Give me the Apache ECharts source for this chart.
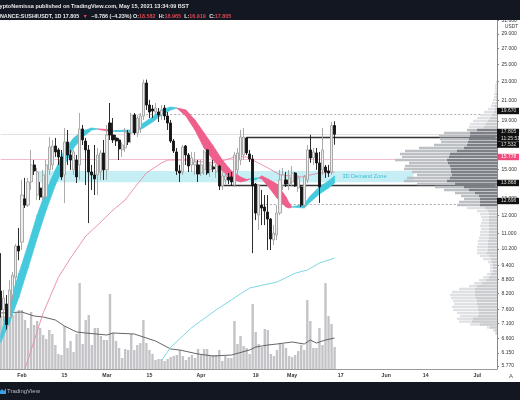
<!DOCTYPE html>
<html>
<head>
<meta charset="utf-8">
<style>html,body{margin:0;padding:0;background:#fff}#main{width:520px;height:400px}</style>
<script src="https://cdn.jsdelivr.net/npm/echarts@6/dist/echarts.min.js"></script>
</head>
<body>
<div id="main"></div>
<script>
var xTickText = {'2021-02-01':'Feb','2021-02-15':'15','2021-03-01':'Mar','2021-03-15':'15','2021-04-01':'Apr','2021-04-19':'19','2021-05-01':'May','2021-05-17':'17','2021-06-01':'Jun','2021-06-14':'14','2021-07-01':'Jul'};
var yTicks = [31,29,27,25,23,21,19,17,16,15,14,13,12,11,10.2,9.4,8.8,8.2,7.6,7.1,6.6,6.15,5.77];

// open, close, low, high
var candles = [
[8.31,7.58,7.3,9.99],[7.58,8.03,7.16,8.35],[7.8,7.06,6.89,8.15],[7.3,8.35,7.06,8.76],[8.15,8.97,7.96,9.11],
[8.88,10.34,8.55,10.44],[10.34,10.09,9.65,11.29],[10.54,13.25,10.14,14.26],[13.0,12.62,12.44,14.4],[12.62,14.12,12.5,14.4],
[14.12,15.34,13.58,16.5],[15.34,14.9,14.61,15.71],[13.25,14.82,12.93,15.12],[13.71,13.12,12.93,14.12],[13.12,14.61,12.93,14.97],
[13.12,15.34,12.81,15.71],[14.97,16.74,14.61,17.57],[15.34,16.82,14.97,17.32],[16.82,16.34,15.95,17.49],[16.5,15.95,15.34,16.66],
[15.95,14.47,14.26,16.5],[14.61,17.15,12.75,18.36],[17.15,16.1,15.34,18.18],[16.1,15.71,14.97,16.5],[14.97,16.34,14.61,16.5],
[15.71,14.47,14.05,16.1],[15.34,18.27,14.26,19.75],[18.27,17.32,16.9,18.63],[17.23,16.5,13.91,17.49],[16.5,14.82,11.56,16.9],
[14.82,14.61,13.58,15.34],[14.61,14.33,13.25,16.9],[14.61,16.1,13.25,16.66],[14.82,16.26,14.26,16.5],[16.26,14.97,14.26,17.32],
[14.97,17.75,14.26,18.63],[18.81,17.75,17.32,20.73],[17.75,17.32,17.07,19.27],[17.49,17.23,16.82,17.75],[17.32,16.58,15.71,17.49],
[16.5,16.9,15.95,17.15],[16.66,18.01,16.34,18.36],[17.92,17.15,16.9,18.18],[17.92,19.56,17.07,19.75],[19.56,17.92,17.75,19.75],
[17.92,19.27,17.57,19.56],[18.36,19.46,17.92,19.75],[19.46,22.85,19.09,23.23],[22.85,20.53,20.04,23.23],[20.53,19.84,19.27,21.05],
[20.13,19.94,19.27,20.53],[19.84,20.23,19.37,20.73],[19.84,19.56,18.9,20.23],[19.56,20.04,19.09,20.53],[20.23,19.46,19.09,20.53],
[19.46,18.81,18.18,19.84],[18.81,17.23,17.07,19.09],[17.23,16.42,16.26,17.4],[16.34,14.9,14.61,16.66],[14.9,14.75,14.12,15.34],
[14.82,16.74,14.61,16.9],[16.82,16.1,15.34,16.9],[16.1,15.26,14.82,16.26],[15.34,15.87,14.82,16.34],[15.34,15.56,14.61,16.34],
[15.34,14.68,14.12,15.71],[14.75,15.34,14.54,15.71],[14.97,16.34,14.61,16.5],[16.5,14.75,14.61,16.55],[14.97,15.34,14.47,15.56],
[15.19,15.04,14.82,15.71],[14.82,15.26,14.4,15.41],[15.26,13.85,13.58,15.34],[13.85,14.54,13.58,14.82],[14.26,14.54,13.98,14.82],
[14.47,14.26,13.98,14.75],[14.47,14.12,13.85,14.82],[13.91,16.1,13.78,16.34],[14.97,16.26,14.61,16.66],[15.71,17.57,15.34,18.18],
[16.1,17.57,15.71,18.36],[17.49,16.26,16.1,17.57],[16.18,15.79,15.56,16.5],[15.79,13.85,9.99,16.1],[13.98,12.14,11.73,14.05],
[12.02,13.91,11.18,13.95],[12.62,12.44,11.45,13.58],[12.5,12.26,11.45,13.25],[12.2,11.79,10.14,13.25],[11.79,10.7,10.14,11.85],
[10.65,11.01,10.39,11.45],[10.91,12.14,10.65,12.62],[12.14,14.26,12.02,14.97],[13.91,14.61,13.58,15.12],[14.26,13.98,13.78,14.82],
[13.98,14.4,13.58,14.97],[14.12,14.75,13.85,15.26],[14.75,13.85,13.78,14.82],[13.71,14.4,13.45,14.61],[13.78,12.62,12.5,13.91],
[12.62,14.47,12.5,14.61],[14.26,16.5,14.05,16.9],[16.5,15.87,15.49,17.75],[15.87,16.34,15.34,16.66],[16.26,15.49,14.97,16.66],
[15.49,13.78,12.75,16.34],[14.97,16.5,14.61,18.36],[15.19,14.82,14.4,15.34],[14.9,14.75,14.47,15.34],[14.82,18.58,14.61,18.9],
[18.582,17.805,16.919,18.965]
];

var volumes = [5.4,5.3,5.8,5.1,5.4,5.6,5.9,5.9,4.9,4.1,5.7,4.4,4.8,4.1,3.4,3.0,3.9,3.5,2.4,1.5,1.4,4.3,2.1,2.8,1.7,3.5,8.6,2.5,4.9,5.4,
2.4,4.1,4.1,3.3,2.9,2.9,7.5,3.6,2.8,2.1,1.1,2.0,1.9,3.5,1.9,2.4,2.6,4.9,2.6,1.9,1.5,0.9,1.0,1.0,0.8,1.0,1.2,1.3,1.4,1.9,
1.3,0.9,1.2,1.4,1.1,2.0,1.4,2.0,2.0,1.3,1.4,1.4,1.9,0.8,1.3,1.1,1.1,4.8,2.5,3.3,2.3,2.1,1.5,6.5,3.7,2.5,2.2,4.0,3.9,1.5,
1.3,1.9,2.6,2.5,2.1,1.3,1.2,1.4,1.8,2.4,1.9,6.9,4.8,2.1,2.1,4.1,2.4,8.6,5.3,4.5,2.2];
var volumeAverage = [[0,5.6],[7,5.7],[11,5.3],[14,5.2],[18,4.9],[21,4.3],[25,3.7],[28,3.6],[35,3.4],[37,3.6],[44,3.5],[47,3.2],[51,2.8],[56,2.0],[59,1.9],[65,1.5],[70,1.3],[76,1.4],[82,1.9],[84,2.2],[88,2.4],[91,2.5],[96,2.7],[100,2.5],[102,2.9],[104,2.6],[107,2.9],[110,3.1]];

var pinkAverage = [[8,5.69],[14,7.47],[19,8.88],[23,9.75],[28,10.85],[33,11.62],[37,12.32],[41,12.93],[44,13.71],[48,14.75],[53,15.49],[55,15.71],[61,15.71],[70,15.49],[72,15.56],[77,15.95],[81,15.95],[83,15.71],[88,15.12],[92,14.61],[99,14.47],[105,14.75],[110,14.82]];
var cyanAverage = [[53,5.93],[56,6.32],[63,6.96],[71,7.58],[76,7.96],[82,8.43],[91,8.68],[97,9.06],[101,9.2],[105,9.52],[110,9.75]];

// day index, fast average, slow average
var ribbon = [[0,6.72,6.47],[3,7.88,7.16],[6,9.06,8.07],[9,10.39,9.29],[12,12.02,10.75],[15,13.58,12.32],[18,14.97,13.91],[21,16.5,15.34],[24,17.49,16.66],[27,18.09,17.57],[30,18.36,18.18],[32,18.27,18.27],[35,18.09,18.22],[37,18.09,18.09],[38,18.14,18.05],[44,18.18,18.01],[47,18.81,18.36],[50,19.37,18.9],[53,20.04,19.56],[56,20.33,20.04],[58,20.23,20.23],[61,19.46,20.04],[64,18.18,19.09],[67,16.66,17.92],[70,15.71,16.82],[73,14.9,15.71],[76,14.33,14.9],[79,14.12,14.47],[81,14.22,14.29],[82,14.33,14.33],[84,14.4,14.26],[85,14.4,14.4],[86,14.33,14.54],[88,13.85,14.33],[91,13.06,13.98],[94,12.5,13.12],[95,12.44,12.75],[96,12.5,12.5],[100,12.68,12.44],[102,13.19,12.81],[105,13.78,13.32],[108,14.19,13.71],[110,14.54,14.05]];

var profilePrices = [22.96,22.63,22.3,21.98,21.66,21.34,21.05,20.73,20.43,20.13,19.84,19.56,19.27,19.0,18.72,18.45,18.18,17.92,17.66,17.4,17.15,16.9,16.66,16.42,16.18,15.95,15.71,15.49,15.26,15.04,14.82,14.61,14.4,14.19,13.98,13.78,13.58,13.38,13.19,13.0,12.81,12.62,12.44,12.26,12.08,11.9,11.73,11.56,11.4,11.23,11.07,10.91,10.75,10.6,10.44,10.29,10.14,9.99,9.85,9.7,9.56,9.42,9.29,9.15,9.02,8.88,8.76,8.63,8.51,8.39,8.27,8.15,8.03,7.92,7.8,7.69,7.58,7.47,7.36,7.26,7.16,7.06,6.96,6.86,6.76];
var profileTotal = [1,2,2,2,3,3,4,5,6,9,13,17,20,24,27,28,30,53,58,57,56,63,78,92,97,95,102,88,92,93,85,80,90,93,80,62,53,42,36,33,38,40,30,20,17,16,15,16,17,16,17,17,18,19,19,20,20,20,17,14,9,7,7,7,10,14,18,23,28,38,45,47,46,44,43,45,44,40,37,40,38,27,10,4,2];
var profileDark = [0,0,0,0,1,1,1,1,2,2,3,5,7,9,11,13,20,27,27,28,29,30,33,40,47,48,50,49,47,46,46,45,47,50,42,33,28,22,18,17,17,17,12,9,8,8,8,8,8,8,8,8,8,9,9,9,9,10,8,6,5,4,4,4,6,8,11,15,20,22,22,22,21,20,20,19,19,18,19,24,25,17,7,2,1];

var levels = {resistance:19.67, lastClose:17.805, boxTop:17.532, pinkLevel:15.778, boxBottom:13.868, support:12.696};
var zone = {top:14.9, bottom:14.1, from:12, to:136};

// Jan 25 to Jul 7 2021, one category per day
var categories = [];
for (var i = 0; i < 164; i++) {
    categories.push(new Date(Date.UTC(2021, 0, 25 + i)).toISOString().slice(0, 10));
}

var chartDom = document.getElementById('main');
var myChart = echarts.init(chartDom);

function showTick(index, value) { return xTickText[value] !== undefined; }

function tag(text, y, bg, color) {
    return {type:'text', z:60, x:497, y:y, style:{text:text, fill:color || '#ddd', backgroundColor:bg || '#111', width:18, height:6.4, lineHeight:6.4, padding:[0,0,0,4], font:'5px "Liberation Sans"', verticalAlign:'middle'}};
}

var option = {
    animation: false,
    backgroundColor: '#fff',
    grid: {left:-0.8, top:20, width:497.8, height:349, outerBoundsMode:'none'},
    xAxis: [
        {type:'category', data:categories, position:'bottom',
         axisLine:{lineStyle:{color:'#9a9a9a',width:1}},
         axisTick:{length:2, interval:showTick, alignWithLabel:true, lineStyle:{color:'#9a9a9a'}},
         axisLabel:{interval:showTick, margin:4, fontSize:5.2, color:'#333', fontWeight:'bold', fontFamily:'Liberation Sans', formatter:function (v) { return xTickText[v]; }}},
        {type:'value', inverse:true, min:0, max:497.8, show:false}
    ],
    yAxis: [
        {type:'log', logBase:10, min:5.686, max:31.04, position:'right', splitLine:{show:false},
         axisLine:{show:true, onZero:false, lineStyle:{color:'#888',width:1}},
         axisTick:{show:true, customValues:yTicks, length:2, lineStyle:{color:'#888'}},
         axisLabel:{customValues:yTicks, margin:4.5, fontSize:5, color:'#333', fontFamily:'Liberation Sans', formatter:function (v) { return (+v).toFixed(3); }}},
        {type:'value', min:0, max:34.9, show:false}
    ],
    series: [
        {type:'bar', name:'Volume', yAxisIndex:1, data:volumes, barWidth:2.4, z:2, itemStyle:{color:'#c4c4c8'}, silent:true},
        {type:'line', name:'Volume MA', yAxisIndex:1, data:volumeAverage, showSymbol:false, z:3, lineStyle:{color:'#555',width:0.9}},
        {type:'custom', name:'Profile', xAxisIndex:1, yAxisIndex:0, z:3, clip:true,
         data:profilePrices.map(function (p, i) { return [profileTotal[i], p, profileDark[i]]; }),
         encode:{x:0, y:1},
         renderItem:function (params, api) {
            var p = api.value(1);
            var inArea = p <= levels.boxTop + 0.7 && p >= levels.support - 0.2;
            var a = api.coord([api.value(0), p]);
            var b = api.coord([api.value(2), p]);
            var edge = api.coord([0, p]);
            return {type:'group', children:[
                {type:'rect', shape:{x:a[0], y:a[1]-1.2, width:edge[0]-a[0], height:2.4}, style:{fill:inArea ? '#bcbfc4' : '#e0e1e4'}},
                {type:'rect', shape:{x:b[0], y:b[1]-1.2, width:edge[0]-b[0], height:2.4}, style:{fill:inArea ? '#7d8086' : '#cbcdd1'}}
            ]};
         }},
        {type:'custom', name:'Ribbon', z:5, data:ribbon, encode:{x:0, y:[1,2]},
         renderItem:function (params, api) {
            var i = params.dataIndex;
            if (i >= ribbon.length - 1) return null;
            var k0 = ribbon[i], k1 = ribbon[i + 1];
            var up = k0[1] + k1[1] >= k0[2] + k1[2];
            return {type:'polygon', shape:{points:[api.coord([k0[0],k0[1]]), api.coord([k1[0],k1[1]]), api.coord([k1[0],k1[2]]), api.coord([k0[0],k0[2]])]},
                    style:{fill:up ? '#45c9dd' : '#ef5f8c', stroke:up ? '#45c9dd' : '#ef5f8c', lineWidth:0.8}};
         }},
        {type:'line', name:'MA pink', data:pinkAverage, showSymbol:false, z:4, lineStyle:{color:'#e88aa6',width:0.9}},
        {type:'line', name:'MA cyan', data:cyanAverage, showSymbol:false, z:4, lineStyle:{color:'#6fd3e2',width:0.9}},
        {type:'candlestick', name:'SUSHIUSDT', data:candles, barWidth:2.6, z:6,
         itemStyle:{color:'#eeeeee', color0:'#151515', borderColor:'#a2a2a2', borderColor0:'#151515', borderWidth:0.9},
         markArea:{silent:true, z:1, itemStyle:{color:'#c6eef5'},
            label:{show:true, position:'insideRight', distance:27, formatter:'3D Demand Zone', fontSize:5.6, color:'#3dbdd6', fontFamily:'Liberation Sans'},
            data:[[{coord:[zone.from, zone.top]},{coord:[zone.to, zone.bottom]}]]},
         markLine:{silent:true, symbol:'none', z:2, label:{show:false}, data:[
            [{coord:[0,levels.lastClose],lineStyle:{color:'#e6dfe2',width:1,type:'solid'}},{coord:[163,levels.lastClose]}],
            [{coord:[0,levels.pinkLevel],lineStyle:{color:'#f4bccb',width:1,type:'solid'}},{coord:[163,levels.pinkLevel]}],
            [{coord:[44,levels.resistance],lineStyle:{color:'#8a8a8a',width:0.7,type:[2,2]}},{coord:[163,levels.resistance]}],
            [{coord:[86,levels.support],lineStyle:{color:'#8a8a8a',width:0.7,type:[2,2]}},{coord:[163,levels.support]}],
            [{coord:[81,levels.boxTop],lineStyle:{color:'#333',width:1.4,type:'solid'}},{coord:[163,levels.boxTop]}],
            [{coord:[72,levels.boxBottom],lineStyle:{color:'#333',width:1.4,type:'solid'}},{coord:[163,levels.boxBottom]}]
         ]}}
    ],
    graphic: [
        {type:'rect', z:50, shape:{x:0,y:0,width:520,height:20}, style:{fill:'#131722'}},
        {type:'rect', z:50, shape:{x:0,y:382,width:520,height:18}, style:{fill:'#131722'}},
        {type:'text', z:51, x:-6.5, y:3, style:{text:'CryptoNemissa published on TradingView.com, May 15, 2021 13:34:09 BST', fill:'#e8e8e8', font:'bold 5.5px "Liberation Sans"'}},
        {type:'text', z:51, x:-5.5, y:10.5, style:{
            text:'{w|BINANCE:SUSHIUSDT, 1D 17.805} {r|▼} {w|−0.786 (−4.23%) O:}{r|18.582} {w|H:}{r|18.965} {w|L:}{r|16.919} {w|C:}{r|17.805}',
            rich:{w:{fill:'#e8e8e8', font:'bold 5.4px "Liberation Sans"'}, r:{fill:'#e0464f', font:'bold 5.4px "Liberation Sans"'}}}},
        {type:'text', z:51, x:7, y:388, style:{text:'TradingView', fill:'#b9bcc4', font:'6px "Liberation Sans"'}},
        {type:'polygon', z:51, shape:{points:[[0,391],[2,389],[4,391],[6,388],[6,394],[0,394]]}, style:{fill:'#3aa0e8'}},
        {type:'text', z:51, x:505, y:24, style:{text:'USDT', fill:'#333', font:'4.8px "Liberation Sans"'}},
        {type:'text', z:51, x:509, y:373, style:{text:'A', fill:'#555', font:'6px "Liberation Sans"'}},
        tag('19.670', 111),
        tag('17.805', 132),
        tag('11:25:51', 138.2),
        tag('17.532', 144.6),
        tag('15.778', 157, '#ef4b7d', '#fff'),
        tag('13.868', 183),
        tag('12.696', 201)
    ]
};

option && myChart.setOption(option);
</script>
</body>
</html>
